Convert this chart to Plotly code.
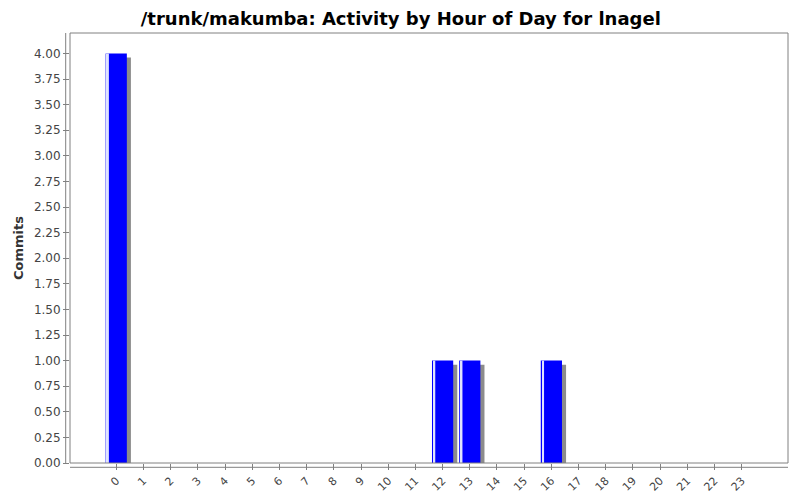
import plotly.graph_objects as go

# commits per hour of day
hours = list(range(24))
hour_labels = [str(h) for h in hours]
commits = [4, 0, 0, 0, 0, 0, 0, 0, 0, 0, 0, 0,
           1, 1, 0, 0, 1, 0, 0, 0, 0, 0, 0, 0]

bar_w = 0.78
shadow_dx = 0.15
shadow_dy = 0.04

# only hours with activity get a bar
active_x = [h for h, c in zip(hours, commits) if c > 0]
active_y = [c for c in commits if c > 0]

fig = go.Figure()

# drop shadow
fig.add_trace(go.Bar(
    x=active_x, y=active_y,
    base=[-shadow_dy] * len(active_x),
    width=bar_w, offset=-bar_w / 2 + shadow_dx,
    marker=dict(color='#8c8c8c', line=dict(width=0)),
    hoverinfo='skip', showlegend=False,
))

# main bars
fig.add_trace(go.Bar(
    x=active_x, y=active_y,
    width=bar_w, offset=-bar_w / 2,
    marker=dict(color='#0000ff', line=dict(width=0)),
    showlegend=False,
))

# thin highlight strip near the left edge of each bar
fig.add_trace(go.Bar(
    x=active_x, y=active_y,
    width=0.07, offset=-bar_w / 2 + 0.05,
    marker=dict(color='#dfe3ff', line=dict(width=0)),
    hoverinfo='skip', showlegend=False,
))

# the page body adds an 8px offset, margins are set to compensate
fig.update_layout(
    width=800, height=500,
    margin=dict(l=62, r=20, t=25, b=45, autoexpand=False),
    paper_bgcolor='white', plot_bgcolor='white',
    barmode='overlay',
    font=dict(family='DejaVu Sans', size=12, color='#444444'),
    title=dict(
        text='<b>/trunk/makumba: Activity by Hour of Day for lnagel</b>',
        x=0.491, xanchor='center', y=0.992, yanchor='top',
        pad=dict(t=0, b=0),
        font=dict(family='DejaVu Sans', size=18, color='black'),
    ),
    xaxis=dict(
        range=[-1.7, 24.7], automargin=False,
        tickmode='array', tickvals=hours, ticktext=hour_labels,
        tickangle=-45, ticks='outside', ticklen=6, tickcolor='#808080',
        showgrid=False, zeroline=False, showline=False,
        tickfont=dict(size=11, color='#444444'),
    ),
    yaxis=dict(
        range=[0, 4.2], automargin=False,
        tickmode='linear', tick0=0, dtick=0.25, tickformat='.2f',
        ticks='outside', ticklen=6, tickcolor='#808080',
        showgrid=False, zeroline=False, showline=False,
        tickfont=dict(size=12, color='#444444'),
        title=dict(text='<b>Commits</b>', standoff=7,
                   font=dict(size=13, color='#333333')),
    ),
    shapes=[
        # plot box
        dict(type='rect', xref='x domain', yref='y domain',
             x0=0, x1=1, y0=0, y1=1,
             line=dict(color='#808080', width=1)),
        # offset y axis line
        dict(type='line', xref='x domain', yref='y domain',
             x0=-0.006, x1=-0.006, y0=0, y1=1,
             line=dict(color='#808080', width=1)),
        # offset x axis line
        dict(type='line', xref='x domain', yref='y domain',
             x0=0, x1=1, y0=-0.01, y1=-0.01,
             line=dict(color='#808080', width=1)),
    ],
)

fig.write_html('out.html')
